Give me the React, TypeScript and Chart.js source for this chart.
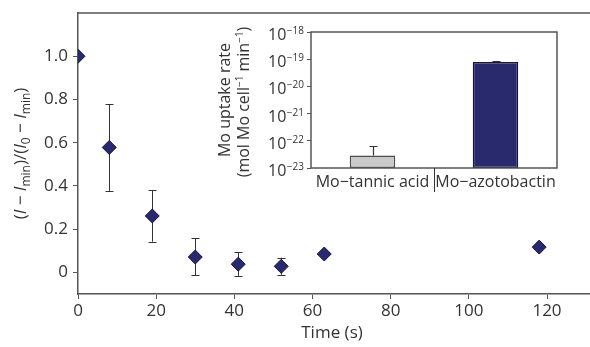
import React, { useEffect, useRef } from 'react';
import { Chart, registerables } from 'chart.js';

Chart.register(...registerables);

// ---------- Main chart data ----------
const timeS = [0, 8, 19, 30, 41, 52, 63, 118];
const normSignal = [1.0, 0.578, 0.261, 0.071, 0.038, 0.028, 0.085, 0.117];
const errLow: (number | null)[] = [null, 0.377, 0.142, -0.014, -0.016, -0.011, null, null];
const errHigh: (number | null)[] = [null, 0.779, 0.379, 0.158, 0.093, 0.068, null, null];
const xTickValues = [0, 20, 40, 60, 80, 100, 120];
const yTickValues = [0, 0.2, 0.4, 0.6, 0.8, 1.0];
const yTickLabels = ['0', '0.2', '0.4', '0.6', '0.8', '1.0'];

// ---------- Inset data ----------
const insetCategories = ['Mo\u2212tannic acid', 'Mo\u2212azotobactin'];
const uptakeRate = [2.9e-23, 7.9e-20];
const uptakeErrHigh = [6.5e-23, 8.9e-20];
const insetTickExponents = [-23, -22, -21, -20, -19, -18];

const FONT = '"Open Sans", "DejaVu Sans", sans-serif';
const TEXT = '#333333';
const AXIS = '#555555';
const NAVY = '#282a6d';

type Seg = { t: string; it?: boolean; sub?: boolean; sup?: boolean };

function drawRich(ctx: CanvasRenderingContext2D, segs: Seg[], cx: number, cy: number, size: number, small: number) {
  const fontFor = (s: Seg) => `${s.it ? 'italic ' : ''}${s.sub || s.sup ? small : size}px ${FONT}`;
  let total = 0;
  const widths = segs.map((s) => {
    ctx.font = fontFor(s);
    const w = ctx.measureText(s.t).width;
    total += w;
    return w;
  });
  ctx.save();
  ctx.translate(cx, cy);
  ctx.rotate(-Math.PI / 2);
  ctx.fillStyle = TEXT;
  ctx.textBaseline = 'alphabetic';
  ctx.textAlign = 'left';
  let x = -total / 2;
  const base = size * 0.36;
  segs.forEach((s, i) => {
    ctx.font = fontFor(s);
    let y = base;
    if (s.sub) y = base + size * 0.25;
    if (s.sup) y = base - size * 0.4;
    ctx.fillText(s.t, x, y);
    x += widths[i];
  });
  ctx.restore();
}

const mainPlugin = {
  id: 'mainDeco',
  beforeDatasetsDraw(chart: any) {
    const ctx = chart.ctx as CanvasRenderingContext2D;
    const xs = chart.scales.x;
    const ys = chart.scales.y;
    const a = chart.chartArea;
    ctx.save();
    ctx.strokeStyle = '#333';
    ctx.lineWidth = 1;
    timeS.forEach((t, i) => {
      const lo = errLow[i];
      const hi = errHigh[i];
      if (lo === null || hi === null) return;
      const px = Math.round(xs.getPixelForValue(t)) + 0.5;
      const y1 = ys.getPixelForValue(lo);
      const y2 = ys.getPixelForValue(hi);
      ctx.beginPath();
      ctx.moveTo(px, y1);
      ctx.lineTo(px, y2);
      ctx.moveTo(px - 4, Math.round(y1) + 0.5);
      ctx.lineTo(px + 4, Math.round(y1) + 0.5);
      ctx.moveTo(px - 4, Math.round(y2) + 0.5);
      ctx.lineTo(px + 4, Math.round(y2) + 0.5);
      ctx.stroke();
    });
    ctx.restore();
    // clip the markers to the plot area (the marker at t = 0 is cut by the axis)
    ctx.save();
    ctx.beginPath();
    ctx.rect(a.left, a.top, a.right - a.left, a.bottom - a.top);
    ctx.clip();
  },
  afterDatasetsDraw(chart: any) {
    chart.ctx.restore();
  },
  afterDraw(chart: any) {
    const ctx = chart.ctx as CanvasRenderingContext2D;
    const a = chart.chartArea;
    ctx.save();
    ctx.strokeStyle = AXIS;
    ctx.lineWidth = 1.5;
    ctx.beginPath();
    ctx.moveTo(a.left, a.top);
    ctx.lineTo(chart.width, a.top);
    ctx.stroke();
    ctx.fillStyle = TEXT;
    ctx.font = `17px ${FONT}`;
    ctx.textAlign = 'center';
    ctx.textBaseline = 'middle';
    ctx.fillText('Time (s)', (a.left + a.right) / 2 - 2, 333);
    ctx.restore();
    drawRich(
      ctx,
      [
        { t: '(' },
        { t: 'I', it: true },
        { t: ' \u2212 ' },
        { t: 'I', it: true },
        { t: 'min', sub: true },
        { t: ')/(' },
        { t: 'I', it: true },
        { t: '0', sub: true },
        { t: ' \u2212 ' },
        { t: 'I', it: true },
        { t: 'min', sub: true },
        { t: ')' },
      ],
      20,
      (a.top + a.bottom) / 2,
      17,
      12
    );
  },
};

const insetPlugin = {
  id: 'insetDeco',
  afterDatasetsDraw(chart: any) {
    const ctx = chart.ctx as CanvasRenderingContext2D;
    const xs = chart.scales.x;
    const ys = chart.scales.y;
    ctx.save();
    ctx.strokeStyle = '#333';
    ctx.lineWidth = 1.2;
    uptakeRate.forEach((v, i) => {
      const px = Math.round(xs.getPixelForValue(i)) + 0.5;
      const y1 = ys.getPixelForValue(v);
      const y2 = Math.round(ys.getPixelForValue(uptakeErrHigh[i])) + 0.5;
      ctx.beginPath();
      ctx.moveTo(px, y1);
      ctx.lineTo(px, y2);
      ctx.moveTo(px - 4, y2);
      ctx.lineTo(px + 4, y2);
      ctx.stroke();
    });
    ctx.restore();
  },
  afterDraw(chart: any) {
    const ctx = chart.ctx as CanvasRenderingContext2D;
    const a = chart.chartArea;
    const ys = chart.scales.y;
    ctx.save();
    ctx.strokeStyle = AXIS;
    ctx.lineWidth = 1.5;
    ctx.strokeRect(a.left, a.top, a.right - a.left, a.bottom - a.top);
    ctx.beginPath();
    const mid = Math.round((a.left + a.right) / 2) + 0.5;
    ctx.lineWidth = 1;
    ctx.strokeStyle = '#333';
    ctx.moveTo(mid, a.bottom);
    ctx.lineTo(mid, a.bottom + 24);
    ctx.stroke();
    // y tick labels 10^n
    ctx.fillStyle = TEXT;
    ctx.textBaseline = 'alphabetic';
    ctx.textAlign = 'left';
    insetTickExponents.forEach((e) => {
      const py = ys.getPixelForValue(Math.pow(10, e));
      const supTxt = '\u2212' + String(-e);
      ctx.font = `10px ${FONT}`;
      const ws = ctx.measureText(supTxt).width;
      ctx.font = `16px ${FONT}`;
      const wb = ctx.measureText('10').width;
      const right = a.left - 7;
      const x0 = right - ws - wb - 0.5;
      ctx.fillText('10', x0, py + 8);
      ctx.font = `10px ${FONT}`;
      ctx.fillText(supTxt, x0 + wb + 0.5, py + 2);
    });
    ctx.restore();
    const cy = (a.top + a.bottom) / 2;
    drawRich(ctx, [{ t: 'Mo uptake rate' }], a.left - 86.5, cy, 16, 10);
    drawRich(
      ctx,
      [
        { t: '(mol Mo cell' },
        { t: '\u22121', sup: true },
        { t: ' min' },
        { t: '\u22121', sup: true },
        { t: ')' },
      ],
      a.left - 67.5,
      cy + 2,
      16,
      10
    );
  },
};

function MainChart() {
  const ref = useRef<HTMLCanvasElement>(null);
  useEffect(() => {
    if (!ref.current) return;
    const chart = new Chart(ref.current, {
      type: 'scatter',
      data: {
        datasets: [
          {
            data: timeS.map((t, i) => ({ x: t, y: normSignal[i] })),
            pointStyle: 'rectRot',
            pointRadius: 7,
            pointHoverRadius: 7,
            backgroundColor: NAVY,
            borderColor: '#15163d',
            borderWidth: 1,
          } as any,
        ],
      },
      options: {
        animation: false,
        responsive: false,
        events: [],
        layout: { autoPadding: false, padding: { top: 13, right: 0, left: 0, bottom: 0 } },
        plugins: { legend: { display: false }, tooltip: { enabled: false } },
        scales: {
          x: {
            type: 'linear',
            min: 0,
            max: 131,
            afterBuildTicks: (s: any) => {
              s.ticks = xTickValues.map((v) => ({ value: v }));
            },
            afterFit: (s: any) => {
              s.height = 53;
              s.paddingLeft = 0;
              s.paddingRight = 0;
            },
            ticks: {
              font: { family: FONT, size: 17 },
              color: TEXT,
              padding: 2,
              maxRotation: 0,
              autoSkip: false,
            },
            grid: { drawOnChartArea: false, drawTicks: true, tickLength: 5, color: AXIS, lineWidth: 1 },
            border: { display: true, color: AXIS, width: 1.5 },
          },
          y: {
            type: 'linear',
            min: -0.1,
            max: 1.2,
            afterBuildTicks: (s: any) => {
              s.ticks = yTickValues.map((v) => ({ value: v }));
            },
            afterFit: (s: any) => {
              s.width = 78;
              s.paddingTop = 0;
              s.paddingBottom = 0;
            },
            ticks: {
              font: { family: FONT, size: 17 },
              color: TEXT,
              padding: 5,
              autoSkip: false,
              callback: (v: any) => {
                const idx = yTickValues.findIndex((t) => Math.abs(t - Number(v)) < 1e-9);
                return idx >= 0 ? yTickLabels[idx] : '';
              },
            },
            grid: { drawOnChartArea: false, drawTicks: true, tickLength: 5, color: AXIS, lineWidth: 1 },
            border: { display: true, color: AXIS, width: 1.5 },
          },
        },
      },
      plugins: [mainPlugin],
    } as any);
    return () => chart.destroy();
  }, []);
  return <canvas ref={ref} width={590} height={347} style={{ position: 'absolute', left: 0, top: 0 }} />;
}

function InsetChart() {
  const ref = useRef<HTMLCanvasElement>(null);
  useEffect(() => {
    if (!ref.current) return;
    const chart = new Chart(ref.current, {
      type: 'bar',
      data: {
        labels: insetCategories,
        datasets: [
          {
            data: uptakeRate,
            backgroundColor: ['#c9c9c9', NAVY],
            borderColor: ['#4d4d4d', '#15163d'],
            borderWidth: 1.5,
            borderSkipped: false,
            barPercentage: 0.37,
            categoryPercentage: 1,
          },
        ],
      },
      options: {
        animation: false,
        responsive: false,
        events: [],
        layout: { autoPadding: false, padding: { top: 14, right: 23, left: 0, bottom: 0 } },
        plugins: { legend: { display: false }, tooltip: { enabled: false } },
        scales: {
          x: {
            type: 'category',
            afterFit: (s: any) => {
              s.height = 32;
              s.paddingLeft = 0;
              s.paddingRight = 0;
            },
            ticks: { font: { family: FONT, size: 16 }, color: TEXT, padding: 5, maxRotation: 0, autoSkip: false },
            grid: { display: false, drawTicks: false },
            border: { display: false },
          },
          y: {
            type: 'logarithmic',
            min: 1e-23,
            max: 1e-18,
            afterBuildTicks: (s: any) => {
              s.ticks = insetTickExponents.map((e) => ({ value: Math.pow(10, e) }));
            },
            afterFit: (s: any) => {
              s.width = 111;
              s.paddingTop = 0;
              s.paddingBottom = 0;
            },
            ticks: { display: false },
            grid: { drawOnChartArea: false, drawTicks: true, tickLength: 4, color: AXIS, lineWidth: 1 },
            border: { display: false },
          },
        },
      },
      plugins: [insetPlugin],
    } as any);
    return () => chart.destroy();
  }, []);
  return <canvas ref={ref} width={380} height={182} style={{ position: 'absolute', left: 200, top: 18 }} />;
}

export default function App() {
  return (
    <div style={{ position: 'absolute', left: 0, top: 0, width: 590, height: 347, background: '#fff', overflow: 'hidden' }}>
      <MainChart />
      <InsetChart />
    </div>
  );
}
